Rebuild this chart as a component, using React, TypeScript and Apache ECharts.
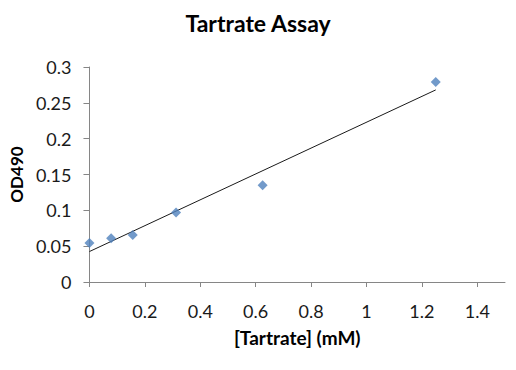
import React, { useEffect, useRef } from "react";
import * as echarts from "echarts";

const concentrations = [0, 0.078125, 0.15625, 0.3125, 0.625, 1.25];
const od490 = [0.0545, 0.061, 0.0655, 0.097, 0.135, 0.279];
const titleText = "Tartrate Assay";
const xName = "[Tartrate] (mM)";
const yName = "OD490";

function linearFit(xs: number[], ys: number[]) {
  const n = xs.length;
  const mx = xs.reduce((a, b) => a + b, 0) / n;
  const my = ys.reduce((a, b) => a + b, 0) / n;
  let sxy = 0;
  let sxx = 0;
  for (let i = 0; i < n; i++) {
    sxy += (xs[i] - mx) * (ys[i] - my);
    sxx += (xs[i] - mx) * (xs[i] - mx);
  }
  const slope = sxy / sxx;
  return { slope, intercept: my - slope * mx };
}

export default function App() {
  const ref = useRef<HTMLDivElement>(null);
  useEffect(() => {
    if (!ref.current) return;
    const chart = echarts.init(ref.current, undefined, { renderer: "svg" });
    const fit = linearFit(concentrations, od490);
    const x0 = Math.min(...concentrations);
    const x1 = Math.max(...concentrations);
    const font = "Lato, 'Open Sans', sans-serif";
    chart.setOption({
      animation: false,
      backgroundColor: "#ffffff",
      title: {
        text: titleText,
        left: "center",
        top: 6,
        textStyle: { fontFamily: font, fontSize: 23, fontWeight: "bold", color: "#000" },
      },
      grid: { left: 88, top: 67, right: 11, bottom: 88 },
      xAxis: {
        type: "value",
        min: 0,
        max: 1.5,
        interval: 0.2,
        name: xName,
        nameLocation: "middle",
        nameGap: 46,
        nameTextStyle: { fontFamily: font, fontSize: 19, fontWeight: "bold", color: "#000" },
        axisLine: { show: true, lineStyle: { color: "#868686", width: 1 } },
        axisTick: { show: true, inside: false, length: 5, lineStyle: { color: "#868686" } },
        splitLine: { show: false },
        axisLabel: {
          fontFamily: font,
          fontSize: 18,
          color: "#1a1a1a",
          margin: 20,
          showMaxLabel: false,
          formatter: (v: number) => (v > 1.45 ? "" : String(Math.round(v * 10) / 10)),
        },
      },
      yAxis: {
        type: "value",
        min: 0,
        max: 0.3,
        interval: 0.05,
        name: yName,
        nameLocation: "middle",
        nameGap: 60,
        nameTextStyle: { fontFamily: font, fontSize: 17, fontWeight: "bold", color: "#000" },
        axisLine: { show: true, lineStyle: { color: "#868686", width: 1 } },
        axisTick: { show: true, inside: false, length: 6, lineStyle: { color: "#868686" } },
        splitLine: { show: false },
        axisLabel: {
          fontFamily: font,
          fontSize: 18,
          color: "#1a1a1a",
          margin: 18,
          formatter: (v: number) => String(Math.round(v * 100) / 100),
        },
      },
      series: [
        {
          type: "line",
          data: [
            [x0, fit.intercept + fit.slope * x0],
            [x1, fit.intercept + fit.slope * x1],
          ],
          showSymbol: false,
          symbol: "none",
          lineStyle: { color: "#1a1a1a", width: 1 },
          z: 1,
          silent: true,
        },
        {
          type: "scatter",
          data: concentrations.map((c, i) => [c, od490[i]]),
          symbol: "diamond",
          symbolSize: [10, 10],
          itemStyle: { color: "#4F81BD" },
          z: 2,
        },
      ],
    });
    return () => chart.dispose();
  }, []);
  return (
    <div
      ref={ref}
      style={{ position: "fixed", left: 0, top: 0, width: 516, height: 370, background: "#fff" }}
    />
  );
}
